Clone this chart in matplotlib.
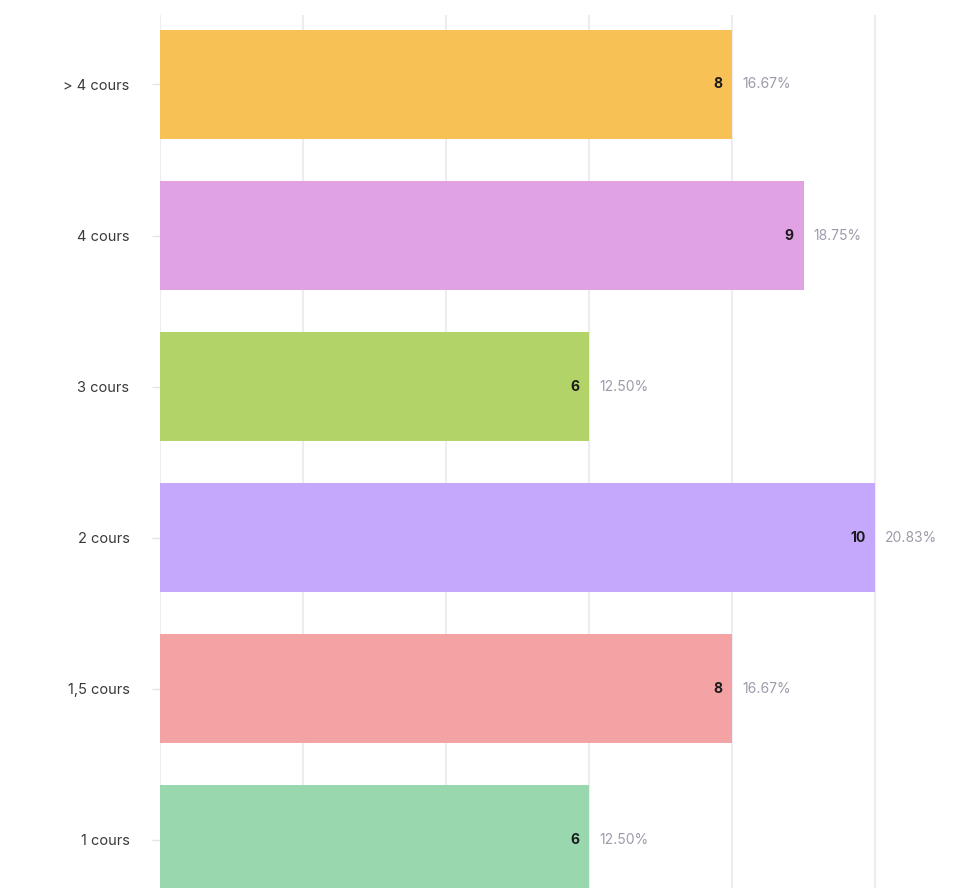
import matplotlib
matplotlib.use("Agg")
import matplotlib.pyplot as plt

# données
categories = ["> 4 cours", "4 cours", "3 cours", "2 cours", "1,5 cours", "1 cours"]
counts = [8, 9, 6, 10, 8, 6]
percents = ["16.67%", "18.75%", "12.50%", "20.83%", "16.67%", "12.50%"]
colors = ["#F7C156", "#E0A2E3", "#B1D368", "#C5A8FC", "#F4A3A4", "#99D8AF"]

plt.rcParams['font.family'] = ['Inter', 'DejaVu Sans']

fig = plt.figure(figsize=(9.79, 8.88), dpi=100)
ax = fig.add_axes([160 / 979, 0, 1 - 160 / 979, 1 - 15 / 888])

pos = list(range(len(categories)))
ax.barh(pos, counts, height=0.72, color=colors, zorder=2)

for y, c, p in zip(pos, counts, percents):
    ax.text(c - 0.14, y, str(c), ha="right", va="center",
            fontsize=10, fontweight="bold", color="#1a1a1a", zorder=3)
    ax.text(c + 0.14, y, p, ha="left", va="center",
            fontsize=10, color="#9b9bab", zorder=3)

ax.set_xlim(0, 11.45)
ax.set_ylim(5.32, -0.46)
ax.set_xticks([0, 2, 4, 6, 8, 10])
ax.set_yticks(pos)
ax.set_yticklabels(categories, fontsize=10.5, color="#3a3a3a")

# grille verticale
ax.grid(axis="x", color="#ECECF3", linewidth=1.5, zorder=0)
ax.tick_params(axis="x", length=0, labelbottom=False)
ax.tick_params(axis="y", length=6, width=1, color="#E4E4EC", pad=16)

for s in ax.spines.values():
    s.set_visible(False)

fig.savefig("out.png", dpi=100)
